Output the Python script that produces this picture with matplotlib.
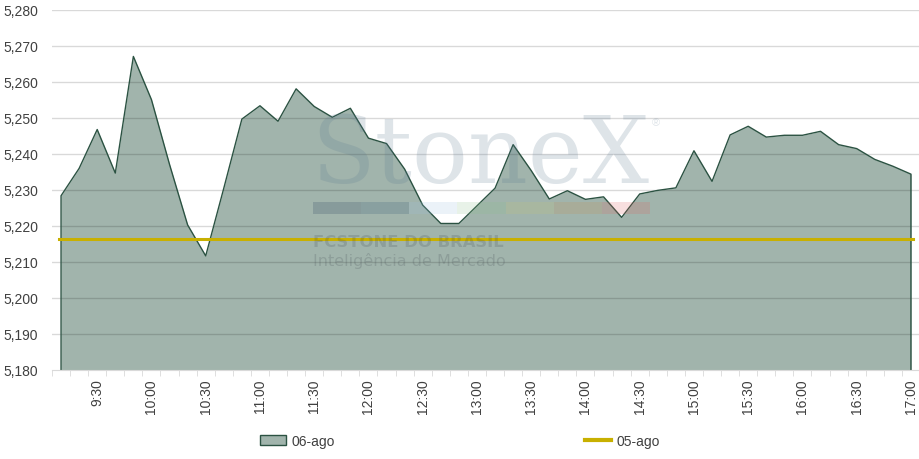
import matplotlib.pyplot as plt
from matplotlib.patches import Patch, Rectangle
from matplotlib.lines import Line2D
from matplotlib.ticker import FuncFormatter

# Data
times = ["9:10", "9:20", "9:30", "9:40", "9:50", "10:00", "10:10", "10:20",
         "10:30", "10:40", "10:50", "11:00", "11:10", "11:20", "11:30", "11:40",
         "11:50", "12:00", "12:10", "12:20", "12:30", "12:40", "12:50", "13:00",
         "13:10", "13:20", "13:30", "13:40", "13:50", "14:00", "14:10", "14:20",
         "14:30", "14:40", "14:50", "15:00", "15:10", "15:20", "15:30", "15:40",
         "15:50", "16:00", "16:10", "16:20", "16:30", "16:40", "16:50", "17:00"]

ago06 = [5.2284, 5.2360, 5.2468, 5.2347, 5.2671, 5.2551, 5.2371, 5.2203,
         5.2117, 5.2305, 5.2497, 5.2534, 5.2491, 5.2581, 5.2532, 5.2502,
         5.2527, 5.2444, 5.2429, 5.2358, 5.2258, 5.2207, 5.2207, 5.2256,
         5.2305, 5.2426, 5.2354, 5.2275, 5.2298, 5.2274, 5.2281, 5.2224,
         5.2289, 5.2299, 5.2306, 5.2409, 5.2324, 5.2453, 5.2477, 5.2447,
         5.2452, 5.2452, 5.2463, 5.2426, 5.2415, 5.2385, 5.2366, 5.2344]

ago05 = 5.2163

y_min, y_max = 5.180, 5.280

fill_color = "#a1b4ac"
edge_color = "#2b5242"
line_color = "#c8b000"
text_color = "#404040"

plt.rcParams["font.family"] = ["Liberation Sans", "DejaVu Sans"]

fig = plt.figure(figsize=(9.2, 4.6), dpi=100)
ax = fig.add_axes([52 / 920, 1 - 371 / 460, 868 / 920, 360 / 460])

x = list(range(len(times)))

# area for 06-ago
ax.fill_between(x, y_min, ago06, color=fill_color, lw=0, zorder=1)
ax.plot([x[0]] + x + [x[-1]], [y_min] + ago06 + [y_min],
        color=edge_color, lw=1, zorder=4)

# 05-ago reference line
ax.plot([x[0] - 0.1, x[-1] + 0.1], [ago05, ago05], color=line_color, lw=2.2,
        zorder=5)

# gridlines drawn over the area, darker where they cross the fill
for v in [5.19, 5.20, 5.21, 5.22, 5.23, 5.24, 5.25, 5.26, 5.27, 5.28]:
    ax.axhline(v, color="black", alpha=0.15, lw=1, zorder=2)

# StoneX watermark
wm = dict(transform=fig.transFigure, zorder=3)
fig.text(311 / 920, 1 - 183 / 460, "StoneX", family="DejaVu Serif",
         fontsize=67, color="#5a7890", alpha=0.2, ha="left", va="baseline",
         **wm)
fig.text(652 / 920, 1 - 126 / 460, "®", fontsize=8, color="#5a7890",
         alpha=0.2, ha="left", va="baseline", **wm)
bar_colors = ["#1f3a5a", "#2a5070", "#9cc0e0", "#8cc08c", "#c8c870",
              "#c89050", "#e06060"]
seg_w = (650 - 313) / len(bar_colors)
for i, c in enumerate(bar_colors):
    fig.patches.append(Rectangle(((313 + i * seg_w) / 920, 1 - 215 / 460),
                                 seg_w / 920, 12 / 460, color=c, alpha=0.2,
                                 lw=0, transform=fig.transFigure, zorder=3))
fig.text(313 / 920, 1 - 247 / 460, "FCSTONE DO BRASIL", family="DejaVu Sans",
         fontsize=11.8, fontweight="bold", color="#404850", alpha=0.2,
         ha="left", va="baseline", **wm)
fig.text(313 / 920, 1 - 266 / 460, "Inteligência de Mercado",
         family="DejaVu Sans", fontsize=11.5, color="#404850", alpha=0.2,
         ha="left", va="baseline", **wm)

# axes
ax.set_xlim(-0.5, len(times) - 0.5)
ax.set_ylim(y_min, y_max)
for s in ["top", "right", "left"]:
    ax.spines[s].set_visible(False)
ax.spines["bottom"].set_color("#d9d9d9")
ax.spines["bottom"].set_zorder(6)

major = [i for i, t in enumerate(times) if t.endswith(":00") or t.endswith(":30")]
ax.set_xticks(major)
ax.set_xticklabels([times[i] for i in major], rotation=90, fontsize=10,
                   color=text_color)
ax.set_xticks([i - 0.5 for i in range(len(times) + 1)], minor=True)
ax.tick_params(axis="x", which="major", length=0, pad=6)
ax.tick_params(axis="x", which="minor", length=4, color="#d9d9d9")

ax.set_yticks([5.18, 5.19, 5.20, 5.21, 5.22, 5.23, 5.24, 5.25, 5.26, 5.27, 5.28])
ax.yaxis.set_major_formatter(FuncFormatter(lambda v, p: f"{v:.3f}".replace(".", ",")))
ax.tick_params(axis="y", length=0, pad=10, labelsize=10, labelcolor=text_color)

handles = [Patch(facecolor=fill_color, edgecolor=edge_color, lw=1),
           Line2D([], [], color=line_color, lw=3)]
fig.legend(handles, ["06-ago", "05-ago"], loc="center", ncol=2,
           bbox_to_anchor=(0.5, 1 - 442 / 460), frameon=False, fontsize=10,
           columnspacing=18, handlelength=1.9, handletextpad=0.4,
           labelcolor=text_color)

plt.savefig("out.png", dpi=100)
